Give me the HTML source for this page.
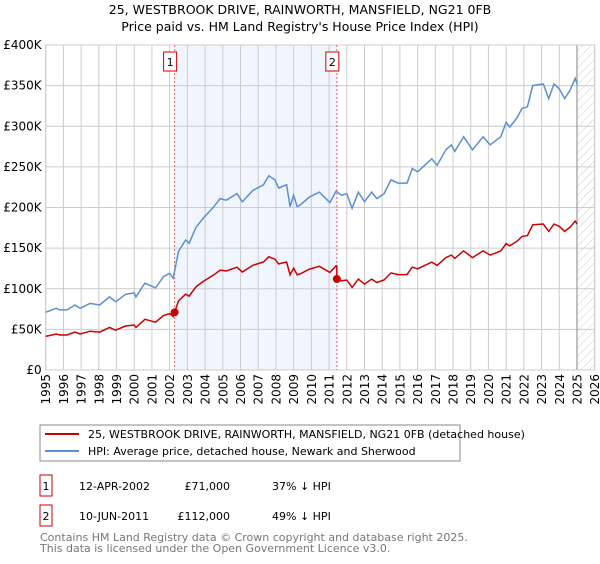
<!DOCTYPE html>
<html><head><meta charset="utf-8"><style>
body{margin:0;background:#fff;width:600px;height:560px;overflow:hidden;font-family:"DejaVu Sans","Liberation Sans",sans-serif;}
svg text{font-family:"DejaVu Sans","Liberation Sans",sans-serif;}
</style></head><body>
<svg id="chart" width="600" height="560" viewBox="0 0 600 560">
<defs>
<pattern id="hatch" width="6" height="6" patternUnits="userSpaceOnUse" patternTransform="rotate(45)">
<line x1="0" y1="0" x2="0" y2="6" stroke="#ccc" stroke-width="1"/></pattern>
</defs>
<text x="300" y="14" text-anchor="middle" font-size="12.5" fill="#000">25, WESTBROOK DRIVE, RAINWORTH, MANSFIELD, NG21 0FB</text>
<text x="300" y="31" text-anchor="middle" font-size="12.5" fill="#000">Price paid vs. HM Land Registry's House Price Index (HPI)</text>
<g id="plot"></g>
<rect x="40" y="425" width="420" height="36" fill="#fff" stroke="#888"/>
<line x1="45" y1="434" x2="79" y2="434" stroke="#cc0000" stroke-width="2"/>
<text x="88" y="438" font-size="11">25, WESTBROOK DRIVE, RAINWORTH, MANSFIELD, NG21 0FB (detached house)</text>
<line x1="45" y1="451" x2="79" y2="451" stroke="#5b8fd0" stroke-width="2"/>
<text x="88" y="455" font-size="11">HPI: Average price, detached house, Newark and Sherwood</text>
<g>
<rect x="40" y="475" width="12" height="21" fill="#fff" stroke="#cc0000"/>
<text x="46" y="490" font-size="11" text-anchor="middle">1</text>
<text x="79" y="490" font-size="11">12-APR-2002</text>
<text x="230" y="490" font-size="11" text-anchor="end">£71,000</text>
<text x="272" y="490" font-size="11">37% ↓ HPI</text>
</g>
<g>
<rect x="40" y="505" width="12" height="21" fill="#fff" stroke="#cc0000"/>
<text x="46" y="520" font-size="11" text-anchor="middle">2</text>
<text x="79" y="520" font-size="11">10-JUN-2011</text>
<text x="230" y="520" font-size="11" text-anchor="end">£112,000</text>
<text x="272" y="520" font-size="11">49% ↓ HPI</text>
</g>
<text x="40" y="541" font-size="11" fill="#777">Contains HM Land Registry data © Crown copyright and database right 2025.</text>
<text x="40" y="552" font-size="11" fill="#777">This data is licensed under the Open Government Licence v3.0.</text>
</svg>
<script>
const hpiYears=[1995,1995.6,1995.8,1996.2,1996.65,1996.95,1997.5,1998.05,1998.6,1998.95,1999.5,2000.0,2000.1,2000.6,2001.2,2001.65,2002.0,2002.2,2002.5,2002.9,2003.1,2003.5,2003.9,2004.5,2004.85,2005.2,2005.8,2006.1,2006.7,2007.3,2007.6,2007.95,2008.15,2008.6,2008.8,2009.0,2009.2,2009.36,2009.9,2010.45,2011.05,2011.4,2011.7,2012.0,2012.3,2012.65,2013.0,2013.4,2013.7,2014.1,2014.5,2014.9,2015.4,2015.7,2016.0,2016.3,2016.8,2017.1,2017.6,2017.9,2018.1,2018.6,2019.1,2019.7,2020.1,2020.7,2021.0,2021.2,2021.6,2021.9,2022.2,2022.5,2023.1,2023.4,2023.7,2024.0,2024.3,2024.6,2024.9,2025.0];
const hpiValues=[71,76,74,74,80,76,82,80,90,84,93,95,90,107,101,115,119,113,146,160,156,176,187,201,211,209,217,207,221,228,239,234,224,228,201,215,201,203,213,219,206,220,215,217,199,219,207,219,211,217,234,230,230,248,244,250,260,252,271,277,269,287,271,287,277,287,305,299,310,322,324,350,352,334,352,346,334,344,359,352];
const saleYears=[2002.28,2011.44];
const salePrices=[71,112];
const yTicks=[0,50,100,150,200,250,300,350,400];
const yTickLabels=["£0","£50K","£100K","£150K","£200K","£250K","£300K","£350K","£400K"];
const xTicks=[1995,1996,1997,1998,1999,2000,2001,2002,2003,2004,2005,2006,2007,2008,2009,2010,2011,2012,2013,2014,2015,2016,2017,2018,2019,2020,2021,2022,2023,2024,2025,2026];

const X0=45.7,X1=594.7,Y0=370,Y1=45;
const xs=y=>X0+(y-1995)/(2026-1995)*(X1-X0);
const ys=v=>Y0-v/400*(Y0-Y1);
const NS='http://www.w3.org/2000/svg';
const plot=document.getElementById('plot');
function mk(tag,attrs,parent){const e=document.createElementNS(NS,tag);for(const k in attrs)e.setAttribute(k,attrs[k]);(parent||plot).appendChild(e);return e;}
function hpiAt(t){for(let i=0;i<hpiYears.length-1;i++){if(t>=hpiYears[i]&&t<=hpiYears[i+1]){const f=(t-hpiYears[i])/(hpiYears[i+1]-hpiYears[i]);return hpiValues[i]+f*(hpiValues[i+1]-hpiValues[i]);}}return hpiValues[hpiValues.length-1];}

let bg=mk('rect',{x:X0,y:Y1,width:X1-X0,height:Y0-Y1,fill:'#fff'});


let shade=mk('rect',{x:xs(saleYears[0]),y:Y1,width:xs(saleYears[1])-xs(saleYears[0]),height:Y0-Y1,fill:'#eef3fc',opacity:0.8});


let hat=mk('rect',{x:xs(2025.0),y:Y1,width:X1-xs(2025.0),height:Y0-Y1,fill:'url(#hatch)'});


yTicks.forEach((v,i)=>{
 let l=mk('line',{x1:X0,x2:X1,y1:ys(v),y2:ys(v),stroke:'#ccc','stroke-width':1});
 
 
 let t=mk('text',{x:X0-4,y:ys(v)+4,'text-anchor':'end','font-size':12});
 
 
 t.textContent=yTickLabels[i];
});
xTicks.forEach(y=>{
 let l=mk('line',{x1:xs(y),x2:xs(y),y1:Y1,y2:Y0,stroke:'#ccc','stroke-width':1});
 
 
 let t=mk('text',{x:0,y:0,'text-anchor':'end','font-size':12,transform:`translate(${xs(y)+4.5},${Y0+4}) rotate(-90)`});
 
 
 t.textContent=y;
});
let nowl=mk('line',{x1:xs(2025.0),x2:xs(2025.0),y1:Y1,y2:Y0,stroke:'#999','stroke-width':1.2});


let frame=mk('rect',{x:X0,y:Y1,width:X1-X0,height:Y0-Y1,fill:'none',stroke:'#ccc'});


saleYears.forEach((sy,i)=>{
 let l=mk('line',{x1:xs(sy),x2:xs(sy),y1:Y1,y2:Y0,stroke:'#e06666','stroke-width':1,'stroke-dasharray':'2,2'});
 
 
 let g=mk('g',{});
 
 
 mk('rect',{x:xs(sy)-11,y:52,width:13,height:19,fill:'#fff',stroke:'#cc0000'},g);
 let t=mk('text',{x:xs(sy)-4.5,y:66,'text-anchor':'middle','font-size':11},g);
 t.textContent=String(i+1);
});
// HPI line
let hp=hpiYears.map((y,i)=>`${xs(y).toFixed(1)},${ys(hpiValues[i]).toFixed(1)}`).join(' ');
let hl=mk('polyline',{points:hp,fill:'none',stroke:'#5b8fd0','stroke-width':1.5});


// Property line: HPI indexed to sale prices
let rp=[];
hpiYears.forEach((y,i)=>{
 let k=y<saleYears[1]?0:1;
 rp.push(`${xs(y).toFixed(1)},${ys(hpiValues[i]*salePrices[k]/hpiAt(saleYears[k])).toFixed(1)}`);
 if(i<hpiYears.length-1&&y<saleYears[1]&&hpiYears[i+1]>=saleYears[1]){
  rp.push(`${xs(saleYears[1]).toFixed(1)},${ys(hpiAt(saleYears[1])*salePrices[0]/hpiAt(saleYears[0])).toFixed(1)}`);
  rp.push(`${xs(saleYears[1]).toFixed(1)},${ys(salePrices[1]).toFixed(1)}`);
 }
});
let rl=mk('polyline',{points:rp.join(' '),fill:'none',stroke:'#cc0000','stroke-width':1.5});


saleYears.forEach((sy,i)=>{
 let c=mk('circle',{cx:xs(sy),cy:ys(salePrices[i]),r:4,fill:'#cc0000'});
 
 
});
</script>
</body></html>
